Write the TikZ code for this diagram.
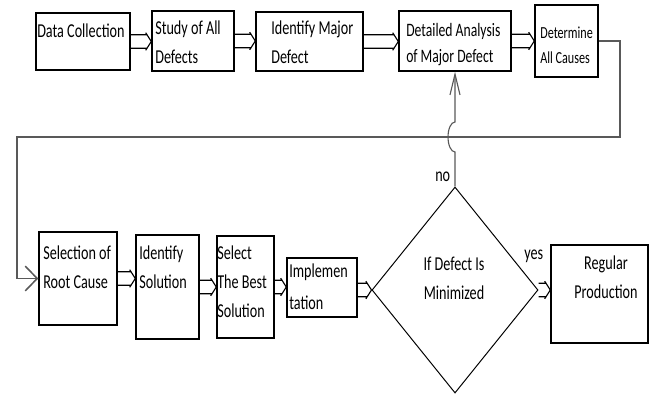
\documentclass[tikz,border=0pt]{standalone}
\usepackage{fontspec}
\setmainfont[FakeStretch=0.72]{Carlito}
\usetikzlibrary{positioning, arrows.meta, shapes.geometric, fit}

\begin{document}
\begin{tikzpicture}[
    x=0.025cm, y=-0.025cm,
    box/.style={draw, line width=1pt, inner sep=0pt},
    lbl/.style={inner sep=0pt, anchor=north west, align=left,
      font=\fontsize{14}{20.5}\selectfont},
    blkarr/.style={line width=0.8pt, to path={
        ([yshift=0.17cm]\tikztostart) -- ([xshift=-0.12cm, yshift=0.17cm]\tikztotarget)
        ([yshift=-0.17cm]\tikztostart) -- ([xshift=-0.12cm, yshift=-0.17cm]\tikztotarget)
        ([xshift=-0.14cm, yshift=0.22cm]\tikztotarget) -- (\tikztotarget)
        -- ([xshift=-0.14cm, yshift=-0.22cm]\tikztotarget)}},
    loopline/.style={draw=black!65, line width=1.1pt}
  ]
    \useasboundingbox (0,0) rectangle (649,394);

    % top row
    \node[box, fit={(36,13) (130,70)}]   (dc)  {};
    \node[box, fit={(152,11) (234,71)}]  (sad) {};
    \node[box, fit={(256,12) (363,71)}]  (imd) {};
    \node[box, fit={(399,11) (511,71)}]  (dad) {};
    \node[box, fit={(535,5) (598,77)}]   (dac) {};

    \node[lbl] (dct)  at (37,24)  {Data Collection};
    \node[lbl] (sadt) at (155,21) {Study of All\\Defects};
    \node[lbl] (imdt) at (271,21) {Identify Major\\Defect};
    \node[lbl, font=\fontsize{13.5}{18.5}\selectfont] (dadt) at (406,23)
      {Detailed Analysis\\of Major Defect};
    \node[lbl, font=\fontsize{12}{17.5}\selectfont] (dact) at (540,27)
      {Determine\\All Causes};

    % bottom row
    \node[box, fit={(39,232) (117,325)}]  (sel) {};
    \node[box, fit={(136,235) (199,339)}] (ids) {};
    \node[box, fit={(217,236) (274,338)}] (sbs) {};
    \node[box, fit={(287,258) (357,317)}] (imp) {};
    \node[draw, diamond, line width=0.7pt, inner sep=0pt,
      minimum width=4.15cm, minimum height=5.15cm] (dia) at (455,290) {};
    \node[box, fit={(551,245) (648,343)}] (rp)  {};

    \node[lbl] (selt) at (43,246)  {Selection of\\Root Cause};
    \node[lbl] (idst) at (139,246) {Identify\\Solution};
    \node[lbl] (sbst) at (217,246) {Select\\The Best\\Solution};
    \node[lbl, font=\fontsize{14}{22.5}\selectfont] (impt) at (289,264)
      {Implemen\\tation};
    \node[lbl, anchor=north, align=center] (diat) at (454,257)
      {If Defect Is\\Minimized};
    \node[lbl, anchor=north, align=center] (rpt) at (606,256)
      {Regular\\Production};
    \node[lbl] (yes) at (524,250) {yes};
    \node[lbl] (no)  at (435,172) {no};

    \draw[blkarr] (dc.east) to (dc.east -| sad.west);
    \draw[blkarr] (sad.east) to (sad.east -| imd.west);
    \draw[blkarr] (imd.east) to (imd.east -| dad.west);
    \draw[blkarr] (dad.east) to (dad.east -| dac.west);
    \draw[blkarr] (sel.east) to (sel.east -| ids.west);
    \draw[blkarr] (ids.east) to (ids.east -| sbs.west);
    \draw[blkarr] (sbs.east) to (sbs.east -| imp.west);
    \draw[blkarr] (imp.east |- dia.west) to (dia.west);
    \draw[blkarr] (dia.east) to (dia.east -| rp.west);

    % feedback lines
    \coordinate (rt) at (620,137);
    \coordinate (lt) at (17,137);
    \coordinate (hb) at (455,152);
    \draw[loopline, -{Straight Barb[length=0.3cm, width=0.62cm]}]
      (dac.east) -| (rt) -- (lt) |- (sel.west);
    \draw[loopline, line width=0.8pt, -{Straight Barb[length=0.52cm, width=0.25cm]}]
      (dia.north) -- (hb) arc[start angle=90, end angle=270, x radius=7, y radius=15]
      -- (dad.south);
  \end{tikzpicture}
\end{document}
